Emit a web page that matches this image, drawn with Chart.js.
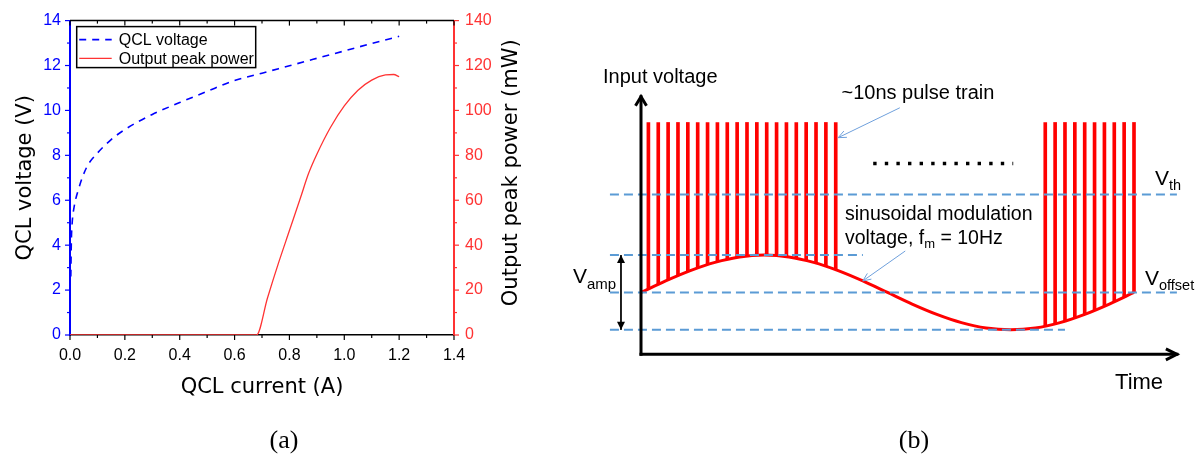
<!DOCTYPE html>
<html>
<head>
<meta charset="utf-8">
<script src="https://cdn.jsdelivr.net/npm/chart.js@4.4.1/dist/chart.umd.min.js"></script>
<style>
  html, body { margin: 0; padding: 0; background: #fff; }
  #wrap { position: relative; width: 1195px; height: 461px; overflow: hidden; }
  #chartA { position: absolute; left: 0; top: 0; }
  #chartB { position: absolute; left: 560px; top: 0; }
</style>
</head>
<body>
<div id="wrap">
  <canvas id="chartA" width="560" height="461" style="width:560px;height:461px"></canvas>
  <canvas id="chartB" width="635" height="461" style="width:635px;height:461px"></canvas>
</div>
<script>
// ---- (a) QCL I-V and I-P data ----
const voltCurrent = [0.003, 0.005, 0.008, 0.015, 0.03, 0.06, 0.1, 0.15, 0.2, 0.3, 0.4, 0.5, 0.6, 0.7, 0.8, 0.9, 1.0, 1.1, 1.2];
const qclVoltage  = [2.6, 4.2, 5.0, 5.7, 6.45, 7.45, 8.1, 8.7, 9.15, 9.82, 10.35, 10.85, 11.33, 11.66, 11.99, 12.32, 12.65, 12.98, 13.3];
const powerCurrent = [0, 0.68, 0.72, 0.76, 0.80, 0.84, 0.87, 0.90, 0.95, 1.0, 1.05, 1.1, 1.15, 1.18, 1.2];
const peakPower    = [0, 0, 16.5, 32, 46.5, 61, 72, 80.5, 92.5, 102, 109, 113.5, 115.8, 116, 115];

// ---- (b) schematic: time in ms (one 10 Hz period = 100 ms), voltage in arbitrary units ----
const pulseTimes1 = [1.5, 3.5, 5.5, 7.5, 9.5, 11.5, 13.5, 15.5, 17.5, 19.5, 21.5, 23.5, 25.5, 27.5, 29.5, 31.5, 33.5, 35.5, 37.5, 39.5];
const pulseBase1  = [2.54, 2.72, 2.89, 3.06, 3.21, 3.36, 3.49, 3.60, 3.69, 3.76, 3.81, 3.84, 3.85, 3.83, 3.79, 3.73, 3.65, 3.55, 3.43, 3.29];
const pulseTimes2 = [82, 84, 86, 88, 90, 92, 94, 96, 98, 100];
const pulseBase2  = [1.09, 1.18, 1.28, 1.41, 1.55, 1.70, 1.87, 2.04, 2.22, 2.40];
const pulseTop = 9.0;
const sineTime = [0, 5, 10, 15, 20, 25, 30, 35, 40, 45, 50, 55, 60, 65, 70, 75, 80, 85, 90, 95, 100];
const sineVolt = [2.40, 2.85, 3.25, 3.57, 3.78, 3.85, 3.78, 3.57, 3.25, 2.85, 2.40, 1.95, 1.55, 1.23, 1.02, 0.95, 1.02, 1.23, 1.55, 1.95, 2.40];
const levelNames = ['Vth', 'Vmax', 'Voffset', 'Vmin'];
const levelVolt  = [6.2, 3.85, 2.4, 0.95];
const levelFrom  = [-6.3, -6.3, -6.3, -6.3];
const levelTo    = [108.7, 45.0, 108.7, 86.0];
const dotsTime = [47.1, 75.5];
const dotsVolt = 7.41;
const axisTimeEnd = 108.7;
const axisVoltEnd = 10;
const leaderPulse = [[40.0, 8.41], [52.5, 9.57]];
const leaderSine  = [[45.0, 2.85], [53.6, 4.01]];
const ampTime = -4.06;

const SANS = 'Liberation Sans, Arial, sans-serif';
const TITLE = 'DejaVu Sans, sans-serif';
const SERIF = 'Liberation Serif, Times New Roman, serif';

// major + minor ticks and the top frame line
const frameTicks = {
  id: 'frameTicks',
  afterDraw(chart) {
    const { ctx, chartArea: a, scales } = chart;
    const marks = (scale, at, dir, major, minor) => {
      const vals = scale.ticks.map(t => t.value);
      const list = [];
      vals.forEach((v, i) => {
        list.push([v, major]);
        if (i < vals.length - 1) list.push([(v + vals[i + 1]) / 2, minor]);
      });
      list.forEach(([v, len]) => {
        const p = scale.getPixelForValue(v);
        ctx.beginPath();
        if (scale.isHorizontal()) { ctx.moveTo(p, at); ctx.lineTo(p, at + dir * len); }
        else { ctx.moveTo(at, p); ctx.lineTo(at + dir * len, p); }
        ctx.stroke();
      });
    };
    ctx.save();
    ctx.strokeStyle = '#000';
    ctx.lineWidth = 1.5;
    ctx.beginPath(); ctx.moveTo(a.left, a.top); ctx.lineTo(a.right, a.top); ctx.stroke();
    ctx.lineWidth = 1.2;
    marks(scales.x, a.bottom, 1, 5, 3);
    marks(scales.x, a.top, 1, 5, 3);
    ctx.strokeStyle = '#0000ff';
    marks(scales.y, a.left, -1, 5, 3);
    ctx.strokeStyle = '#ff3333';
    marks(scales.y1, a.right, 1, 5, 3);
    ctx.restore();
  }
};

// boxed legend inside the plot, right title read bottom-to-top, and the (a) caption
const panelA = {
  id: 'panelA',
  afterDraw(chart) {
    const { ctx, chartArea: a } = chart;
    ctx.save();
    const bx = a.left + 6.7, by = a.top + 6, bw = 179, bh = 41;
    ctx.fillStyle = '#fff';
    ctx.fillRect(bx, by, bw, bh);
    ctx.strokeStyle = '#000';
    ctx.lineWidth = 1.5;
    ctx.strokeRect(bx, by, bw, bh);
    ctx.font = '16px ' + SANS;
    ctx.textBaseline = 'middle';
    chart.data.datasets.forEach((ds, i) => {
      const yy = by + 13 + i * 18.7;
      ctx.strokeStyle = ds.borderColor;
      ctx.lineWidth = ds.borderWidth;
      ctx.setLineDash(ds.borderDash || []);
      ctx.beginPath(); ctx.moveTo(bx + 2.5, yy); ctx.lineTo(bx + 35, yy); ctx.stroke();
      ctx.setLineDash([]);
      ctx.fillStyle = '#000';
      ctx.fillText(ds.label, bx + 42, yy + 1);
    });
    // right axis title
    ctx.translate(chart.scales.y1.right - 48, (a.top + a.bottom) / 2 - 5);
    ctx.rotate(-Math.PI / 2);
    ctx.font = '21px ' + TITLE;
    ctx.textAlign = 'center';
    ctx.fillStyle = '#000';
    ctx.fillText('Output peak power (mW)', 0, 0);
    ctx.restore();
    ctx.save();
    ctx.font = '26px ' + SERIF;
    ctx.textAlign = 'center';
    ctx.textBaseline = 'alphabetic';
    ctx.fillStyle = '#000';
    ctx.fillText('(a)', (a.left + a.right) / 2 + 22, 448);
    ctx.restore();
  }
};

new Chart(document.getElementById('chartA'), {
  type: 'line',
  data: {
    datasets: [
      {
        label: 'QCL voltage',
        data: voltCurrent.map((c, i) => ({ x: c, y: qclVoltage[i] })),
        yAxisID: 'y',
        borderColor: '#0000ff',
        borderWidth: 1.6,
        borderDash: [7, 6],
        pointRadius: 0,
        cubicInterpolationMode: 'monotone'
      },
      {
        label: 'Output peak power',
        data: powerCurrent.map((c, i) => ({ x: c, y: peakPower[i] })),
        yAxisID: 'y1',
        borderColor: '#ff3333',
        borderWidth: 1.3,
        pointRadius: 0,
        cubicInterpolationMode: 'monotone'
      }
    ]
  },
  options: {
    responsive: false,
    animation: false,
    devicePixelRatio: 1,
    layout: { padding: { top: 20, left: 0, right: 0, bottom: 0 } },
    plugins: { legend: { display: false }, tooltip: { enabled: false } },
    scales: {
      x: {
        type: 'linear', min: 0, max: 1.4,
        ticks: { stepSize: 0.2, autoSkip: false, maxRotation: 0, padding: 11, color: '#000',
                 font: { family: SANS, size: 16 }, callback: v => v.toFixed(1) },
        grid: { display: false, drawTicks: false },
        border: { display: true, color: '#000', width: 1.5 },
        title: { display: true, text: 'QCL current (A)', color: '#000',
                 font: { family: TITLE, size: 21 }, padding: { top: 0, bottom: 61 } },
        afterFit: s => { s.height = 126; }
      },
      y: {
        position: 'left', min: 0, max: 14,
        ticks: { stepSize: 2, padding: 9, color: '#0000ff', font: { family: SANS, size: 16 } },
        grid: { display: false, drawTicks: false },
        border: { display: true, color: '#0000ff', width: 2 },
        title: { display: true, text: 'QCL voltage (V)', color: '#000',
                 font: { family: TITLE, size: 21 }, padding: { top: 13, bottom: 0 } },
        afterFit: s => { s.width = 70; }
      },
      y1: {
        position: 'right', min: 0, max: 140,
        ticks: { stepSize: 20, padding: 11, color: '#ff3333', font: { family: SANS, size: 16 } },
        grid: { display: false, drawTicks: false },
        border: { display: true, color: '#ff3333', width: 2 },
        afterFit: s => { s.width = 106; }
      }
    }
  },
  plugins: [frameTicks, panelA]
});

// ---- (b) ----
const notes = [
  { t: -7.71, v: 10.52, parts: [['Input voltage', 20]] },
  { t: 40.67, v: 9.91, parts: [['~10ns pulse train', 20]] },
  { t: 41.38, v: 5.21, parts: [['sinusoidal modulation', 19.5]] },
  { t: 41.38, v: 4.30, parts: [['voltage, f', 19.5], ['m', 13, 4], [' = 10Hz', 19.5]] },
  { t: 104.26, v: 6.57, parts: [['V', 21], ['th', 14.5, 5]] },
  { t: 102.23, v: 2.69, parts: [['V', 21], ['offset', 14.5, 5]] },
  { t: -13.79, v: 2.76, parts: [['V', 21], ['amp', 15, 6]] },
  { t: 96.15, v: -1.36, parts: [['Time', 22]] }
];

function arrowHead(ctx, tip, from, len, half, filled) {
  const ang = Math.atan2(tip.y - from.y, tip.x - from.x);
  const bx = tip.x - len * Math.cos(ang), by = tip.y - len * Math.sin(ang);
  const px = -Math.sin(ang) * half, py = Math.cos(ang) * half;
  ctx.beginPath();
  ctx.moveTo(bx + px, by + py);
  ctx.lineTo(tip.x, tip.y);
  ctx.lineTo(bx - px, by - py);
  if (filled) { ctx.closePath(); ctx.fill(); } else { ctx.stroke(); }
}

const schematic = {
  id: 'schematic',
  afterDatasetsDraw(chart) {
    const { ctx, scales: { x, y } } = chart;
    const pts = label => chart.getDatasetMeta(chart.data.datasets.findIndex(d => d.label === label)).data;
    ctx.save();
    // axis arrow heads
    ctx.strokeStyle = '#000';
    ctx.lineWidth = 3;
    ctx.lineJoin = 'miter';
    let p = pts('axisV');
    arrowHead(ctx, p[1], p[0], 9, 5.5, false);
    p = pts('axisH');
    arrowHead(ctx, p[1], p[0], 11, 5.5, false);
    // leader arrows
    ctx.strokeStyle = '#6fa0dc';
    ctx.lineWidth = 1;
    p = pts('leaderPulse');
    arrowHead(ctx, p[0], p[1], 8, 3.5, false);
    p = pts('leaderSine');
    arrowHead(ctx, p[0], p[1], 8, 3.5, false);
    // amplitude double arrow
    ctx.fillStyle = '#000';
    p = pts('ampArrow');
    arrowHead(ctx, p[0], p[1], 8, 4, true);
    arrowHead(ctx, p[1], p[0], 8, 4, true);
    // labels
    ctx.fillStyle = '#000';
    ctx.textBaseline = 'alphabetic';
    ctx.textAlign = 'left';
    notes.forEach(n => {
      let cx = x.getPixelForValue(n.t);
      const cy = y.getPixelForValue(n.v);
      n.parts.forEach(([txt, size, shift]) => {
        ctx.font = size + 'px ' + SANS;
        ctx.fillText(txt, cx, cy + (shift || 0));
        cx += ctx.measureText(txt).width;
      });
    });
    ctx.font = '26px ' + SERIF;
    ctx.textAlign = 'center';
    ctx.fillText('(b)', x.getPixelForValue(55.38), y.getPixelForValue(-3.63));
    ctx.restore();
  }
};

const lineDs = (label, pts, color, width, extra) => Object.assign({
  type: 'line', label, data: pts.map(([t, v]) => ({ x: t, y: v })),
  borderColor: color, borderWidth: width, pointRadius: 0, fill: false, clip: false, tension: 0
}, extra || {});

const datasets = [];
levelNames.forEach((name, i) => {
  datasets.push(lineDs(name, [[levelFrom[i], levelVolt[i]], [levelTo[i], levelVolt[i]]], '#5b9bd5', 2,
    { borderDash: [9, 5], order: 1 }));
});
datasets.push({
  type: 'bar', label: 'pulses',
  data: pulseTimes1.map((t, i) => ({ x: t, y: [pulseBase1[i], pulseTop] }))
    .concat(pulseTimes2.map((t, i) => ({ x: t, y: [pulseBase2[i], pulseTop] }))),
  backgroundColor: '#ff0000', borderWidth: 0, barThickness: 3, clip: false, order: 3
});
datasets.push(lineDs('sine', sineTime.map((t, i) => [t, sineVolt[i]]), '#ff0000', 3,
  { cubicInterpolationMode: 'monotone', order: 2 }));
datasets.push(lineDs('dots', [[dotsTime[0], dotsVolt], [dotsTime[1], dotsVolt]], '#000', 3.5,
  { borderDash: [3.4, 8.2], order: 0 }));
datasets.push(lineDs('axisV', [[0, 0], [0, axisVoltEnd]], '#000', 3, { borderCapStyle: 'square', order: 0 }));
datasets.push(lineDs('axisH', [[0, 0], [axisTimeEnd, 0]], '#000', 3, { borderCapStyle: 'square', order: 0 }));
datasets.push(lineDs('leaderPulse', leaderPulse, '#6fa0dc', 1, { order: 0 }));
datasets.push(lineDs('leaderSine', leaderSine, '#6fa0dc', 1, { order: 0 }));
datasets.push(lineDs('ampArrow', [[ampTime, levelVolt[1]], [ampTime, levelVolt[3]]], '#000', 1, { order: 0 }));

new Chart(document.getElementById('chartB'), {
  type: 'line',
  data: { datasets },
  options: {
    responsive: false,
    animation: false,
    devicePixelRatio: 1,
    layout: { padding: { left: 81, right: 61, top: 96.7, bottom: 106.7 } },
    plugins: { legend: { display: false }, tooltip: { enabled: false } },
    scales: {
      x: { type: 'linear', min: 0, max: 100, display: false, offset: false },
      y: { type: 'linear', min: 0, max: 10, display: false }
    }
  },
  plugins: [schematic]
});
</script>
</body>
</html>
